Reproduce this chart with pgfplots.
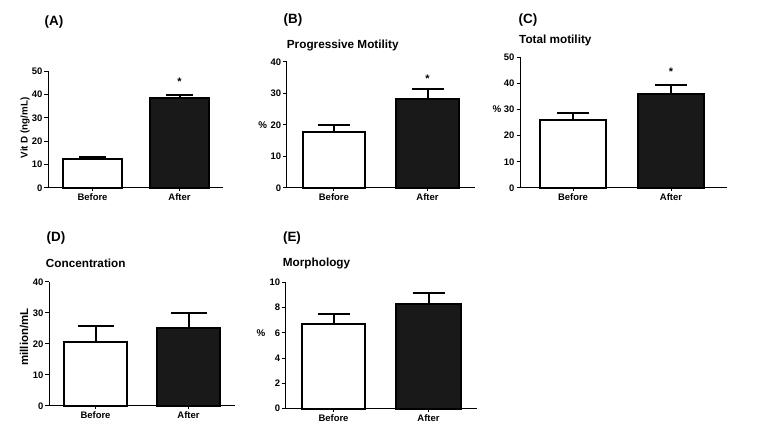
\documentclass[border=0pt]{standalone}
\usepackage{fontspec}
\setmainfont{Liberation Sans}
\usepackage{pgfplots}
\pgfplotsset{compat=1.18}
\pgfplotsset{
  panel/.style={
    scale only axis,
    axis x line*=bottom, axis y line*=left,
    axis line style={line width=1bp, -},
    ymin=0, xmin=0,
    enlargelimits=false,
    tick align=outside,
    major tick length=3.5bp,
    tick style={line width=1bp, black},
    ticklabel style={font=\bfseries\fontsize{9.5}{10}\selectfont},
    /pgf/number format/assume math mode=true,
    xticklabels={Before,After},
    xticklabel style={yshift=1bp},
    yticklabel style={xshift=1.5bp},
    clip=false,
    error bars/y dir=plus, error bars/y explicit,
    error bars/error bar style={line width=2bp, black},
    error bars/error mark options={rotate=90, mark size=16bp, line width=2bp, black},
  },
  bef/.style={ybar, bar shift=0pt, fill=white, draw=black, line width=2bp},
  aft/.style={ybar, bar shift=0pt, fill=black!90, draw=black, line width=2bp},
}
\newcommand{\plab}{\bfseries\fontsize{13.5}{14}\selectfont}
\newcommand{\ptit}{\bfseries\fontsize{11.8}{13}\selectfont}
\newcommand{\ylab}{\bfseries\fontsize{9.8}{10}\selectfont}
\begin{document}
\begin{tikzpicture}
\useasboundingbox (0,0) rectangle (762bp,442bp);
% Panel A
\begin{axis}[panel, at={(48bp,254bp)}, anchor=south west,
  width=175bp, height=117bp, xmax=175, ymax=50, ytick={0,10,...,50},
  xtick={44.5,131.5},
  error bars/error mark options={rotate=90, mark size=13.5bp, line width=2bp, black}]
\addplot[bef, bar width=59] coordinates {(44.5,12.5) +- (0,0.8)};
\addplot[aft, bar width=59] coordinates {(131.5,38.6) +- (0,1.2)};
\node[font=\bfseries\fontsize{11}{12}\selectfont] at (axis cs:131.5,45.5) {*};
\end{axis}
% Panel B
\begin{axis}[panel, at={(286.7bp,254bp)}, anchor=south west,
  width=188.3bp, height=126bp, xmax=188.3, ymax=40, ytick={0,10,...,40},
  xtick={47.2,140.8}]
\addplot[bef, bar width=62] coordinates {(47.2,17.8) +- (0,2.2)};
\addplot[aft, bar width=63] coordinates {(140.8,28.2) +- (0,3.2)};
\node[font=\bfseries\fontsize{11}{12}\selectfont] at (axis cs:140.8,34.8) {*};
\end{axis}
% Panel C
\begin{axis}[panel, at={(520bp,254bp)}, anchor=south west,
  width=207bp, height=131bp, xmax=207, ymax=50, ytick={0,10,...,50},
  xtick={53,151}]
\addplot[bef, bar width=66] coordinates {(53,26.0) +- (0,2.5)};
\addplot[aft, bar width=66] coordinates {(151,35.9) +- (0,3.5)};
\node[font=\bfseries\fontsize{11}{12}\selectfont] at (axis cs:151,44.2) {*};
\end{axis}
% Panel D
\begin{axis}[panel, at={(49bp,36bp)}, anchor=south west,
  width=186bp, height=124bp, xmax=186, ymax=40, ytick={0,10,...,40},
  xtick={46.5,139.5},
  error bars/error mark options={rotate=90, mark size=18bp, line width=2bp, black}]
\addplot[bef, bar width=63] coordinates {(46.5,20.6) +- (0,5.1)};
\addplot[aft, bar width=63] coordinates {(139.5,25.1) +- (0,4.9)};
\end{axis}
% Panel E
\begin{axis}[panel, at={(285.7bp,33.3bp)}, anchor=south west,
  width=191.3bp, height=126.4bp, xmax=191.3, ymax=10, ytick={0,2,...,10},
  xtick={47.8,142.8}]
\addplot[bef, bar width=63] coordinates {(47.8,6.7) +- (0,0.77)};
\addplot[aft, bar width=65] coordinates {(142.8,8.28) +- (0,0.9)};
\end{axis}
% panel letters
\node[font=\plab] at (54bp,420bp) {(A)};
\node[font=\plab] at (293bp,422bp) {(B)};
\node[font=\plab] at (528bp,422bp) {(C)};
\node[font=\plab] at (56bp,204bp) {(D)};
\node[font=\plab] at (292bp,204bp) {(E)};
% titles
\node[font=\ptit, anchor=west, inner sep=0pt] at (286.7bp,397bp) {Progressive Motility};
\node[font=\ptit, anchor=west, inner sep=0pt] at (519bp,402bp) {Total motility};
\node[font=\ptit, anchor=west, inner sep=0pt] at (45.7bp,179bp) {Concentration};
\node[font=\ptit, anchor=west, inner sep=0pt] at (282.7bp,179bp) {Morphology};
% y labels
\node[font=\ylab, rotate=90] at (25bp,314bp) {Vit D (ng/mL)};
\node[font=\bfseries\fontsize{11.5}{12}\selectfont, rotate=90] at (24bp,105bp) {million/mL};
\node[font=\ylab] at (262.7bp,317bp) {\%};
\node[font=\ylab] at (497bp,333bp) {\%};
\node[font=\ylab] at (261bp,109.3bp) {\%};
\end{tikzpicture}
\end{document}
